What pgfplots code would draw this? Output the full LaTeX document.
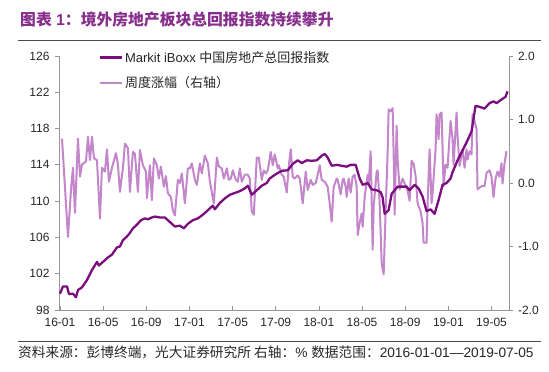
\documentclass[border=0pt]{standalone}
\usepackage{pgfplots}
\pgfplotsset{compat=1.18}
\usepackage{fontspec}
\setmainfont{Liberation Sans}
\newfontfamily\cjk{Noto Sans CJK SC}
\definecolor{darkp}{RGB}{122,14,126}
\definecolor{lightp}{RGB}{196,134,203}
\definecolor{titlec}{RGB}{135,45,140}
\definecolor{axc}{RGB}{150,150,150}
\begin{document}
\begin{tikzpicture}[x=1pt,y=1pt]
\useasboundingbox (0,0) rectangle (549,372);
\node[anchor=west, inner sep=0pt, text=titlec, font=\fontsize{15.8}{17}\selectfont\bfseries] at (20,352) {{\cjk 图表} 1{\cjk ：境外房地产板块总回报指数持续攀升}};
\draw[line width=0.9pt, black!70] (18,332) -- (541,332);
\draw[line width=0.9pt, black!70] (18,31) -- (541,31);
\node[anchor=west, inner sep=0pt, font=\fontsize{13.7}{15}\selectfont, text=black!85] at (18,20) {{\cjk 资料来源：彭博终端，光大证券研究所 右轴：}\% {\cjk 数据范围：}2016-01-01—2019-07-05};

\begin{axis}[
  at={(59pt,62pt)}, anchor=south west, scale only axis,
  width=450pt, height=254pt,
  xmin=1, xmax=451.5, ymin=-2, ymax=2,
  axis x line=none, axis y line*=right,
  ytick={-2,-1,0,1,2},
  /pgf/number format/assume math mode=true,
  y tick label style={/pgf/number format/.cd, fixed, fixed zerofill, precision=1, /tikz/.cd, font=\fontsize{12}{14}\selectfont, text=black!85, xshift=1.5pt},
  tick align=outside, major tick length=4pt,
  axis line style={axc, line width=0.8pt}, tick style={axc, line width=0.8pt},
]
\addplot[lightp, line width=2pt, line join=round] coordinates {
(4,0.70)(10,-0.85)(13,-0.11)(15,0.24)(17,-0.47)(20,0.70)(22,0.10)(24,0.29)(28,0.34)(30,0.73)
(32,0.36)(34,0.73)(36,0.39)(39,0.36)(42,-0.56)(44,0.24)(47,0.18)(49,0.53)(51,0.02)(54,0.24)
(58,0.47)(60,0.29)(62,-0.14)(65,0.24)(67,0.62)(70,0.55)(72,-0.14)(75,0.49)(77,0.46)(80,-0.14)
(82,0.52)(85,0.28)(88,0.18)(89,-0.24)(92,0.28)(94,-0.27)(96,0.39)(99,0.28)(101,0.07)(103,0.26)
(106,-0.06)(108,0.11)(110,-0.16)(113,-0.22)(115,-0.43)(117,-0.51)(120,0.05)(122,0)(124,0.15)(127,-0.32)
(130,0.23)(132,0.23)(134,0.31)(137,0.05)(139,-0.03)(142,0.31)(144,0.15)(147,0.43)(150,0.31)(152,0.03)
(156,-0.32)(159,0.40)(161,0.26)(164,0.23)(166,0.07)(169,0.23)(171,0.05)(173,0.07)(175,0.20)(178,0.05)
(180,0.02)(182,0.23)(184,0.02)(187,0.13)(190,0.13)(192,0.07)(194,-0.45)(196,-0.50)(199,0.40)(201,0.40)
(204,0.05)(206,0.20)(208,0.15)(210,0.20)(213,0.49)(215,0.28)(217,0.45)(220,0.23)(221,0.28)(224,0.13)
(226,0.10)(229,-0.15)(231,0.26)(233,0.53)(235,0.10)(237,0.07)(240,0.12)(242,0.07)(245,-0.32)(248,0.18)
(250,-0.11)(253,0.05)(255,-0.03)(258,0)(260,0.13)(262,0.28)(264,0.05)(267,0.02)(270,-0.06)(272,-0.32)
(274,-0.61)(276,-0.06)(279,0.07)(280,0.05)(283,-0.18)(285,0.05)(286,0.07)(288,-0.06)(289,-0.22)(291,0.07)
(293,-0.15)(295,0.10)(297,0.13)(299,-0.06)(300,-0.82)(302,-0.63)(304,-0.48)(305,-0.69)(307,-0.22)(310,0.13)
(311,-0.03)(313,0.50)(315,-1.05)(316,-0.37)(319,0.18)(320,0.20)(322,-0.30)(324,-1.26)(326,-1.44)(328,-0.44)
(330,0.48)(331,1.16)(333,1.13)(335,1.18)(336,0.47)(337,-0.50)(339,0.90)(340,0.37)(342,-0.10)(345,0.07)
(350,-0.12)(352,-0.28)(354,0.35)(356,0.30)(358,0.11)(360,-0.32)(363,-0.45)(365,-0.63)(366,-0.94)(369,-0.94)
(370,-0.32)(372,0.53)(374,-0.32)(375,-0.16)(378,0.53)(379,1.08)(381,0.69)(382,1.08)(384,1.11)(385,0.53)
(386,-0.05)(388,0.29)(390,0.24)(393,0.98)(395,0.69)(396,0.29)(399,1.11)(400,0.74)(402,0.27)(405,0.53)
(407,0.24)(409,0.53)(410,0.37)(412,0.50)(414,0.45)(415,1.08)(417,0.98)(419,0.85)(420,-0.10)(424,-0.05)
(427,-0.05)(429,0.16)(432,0.20)(434,0.10)(436,-0.22)(438,0.07)(440,0.18)(442,0.10)(444,0.31)(445,-0.01)
(447,0.31)(449,0.50)
};
\end{axis}

\begin{axis}[
  at={(59pt,62pt)}, anchor=south west, scale only axis,
  width=450pt, height=254pt,
  xmin=1, xmax=451.5, ymin=98, ymax=126,
  axis x line*=bottom, axis y line*=left,
  ytick={98,102,...,126},
  xtick={2,45.2,88.4,131.6,174.8,218,261.2,304.4,347.6,390.8,434},
  xticklabels={16-01,16-05,16-09,17-01,17-05,17-09,18-01,18-05,18-09,19-01,19-05},
  /pgf/number format/assume math mode=true,
  tick label style={font=\fontsize{12}{14}\selectfont, text=black!85},
  x tick label style={yshift=-5pt},
  y tick label style={xshift=-6pt},
  tick align=inside, major tick length=4pt,
  y tick style={xshift=-4pt},
  axis line style={axc, line width=0.8pt}, tick style={axc, line width=0.8pt},
  legend style={at={(0.089,1.025)}, anchor=north west, draw=none, fill=none, font=\fontsize{13}{15}\selectfont, row sep=9.5pt, inner sep=0pt, nodes={inner sep=1.5pt, text=black!85}},
  legend cell align=left,
  legend image code/.code={\draw[#1] (0pt,0pt) -- (22pt,0pt);},
]
\addplot[darkp, line width=2.3pt, line join=round] coordinates {
(2,99.8)(5,100.6)(9,100.6)(11,99.75)(15,99.8)(18,99.4)(20,100.2)(24,100.5)(29,101.3)(34,102.4)
(39,103.3)(41,102.9)(45,103.3)(50,103.8)(54,104.1)(59,104.9)(62,105.0)(65,105.7)(69,106.1)(72,106.5)
(75,107.0)(79,107.4)(83,107.9)(87,108.1)(90,108.0)(94,108.2)(97,108.3)(102,108.2)(107,108.2)(110,107.9)
(113,107.6)(117,107.2)(122,107.3)(126,107.0)(130,107.5)(135,107.9)(140,108.1)(145,108.5)(150,109.0)(155,109.5)
(157,109.1)(162,109.8)(167,110.3)(172,110.7)(177,110.9)(182,111.1)(187,111.4)(190,111.7)(194,110.7)(199,111.2)
(204,111.7)(209,112.0)(212,112.5)(217,112.9)(224,113.35)(230,113.4)(235,114.1)(240,114.5)(244,114.2)(249,114.5)
(254,114.45)(259,114.5)(264,115.0)(267,115.2)(270,114.8)(274,113.9)(279,114.0)(284,113.9)(289,113.8)(293,114.0)
(298,114.0)(302,112.5)(305,111.8)(310,112.0)(314,111.3)(319,111.2)(323,111.0)(325,110.4)(327,108.6)(331,109.0)
(334,110.8)(337,111.2)(340,111.6)(349,111.6)(352,111.2)(357,111.8)(361,111.4)(365,110.5)(369,108.9)(373,109.1)
(377,108.6)(381,110.1)(385,111.8)(389,112.0)(393,112.5)(395,113.2)(400,114.5)(405,115.6)(410,116.7)(414,117.7)
(418,120.5)(422,120.4)(427,120.2)(432,120.8)(436,121.0)(439,120.8)(444,121.2)(448,121.5)(450,122.1)
};
\addlegendentry{Markit iBoxx {\cjk 中国房地产总回报指数}}
\addlegendimage{lightp, line width=2pt}
\addlegendentry{{\cjk 周度涨幅（右轴）}}
\end{axis}
\end{tikzpicture}
\end{document}
